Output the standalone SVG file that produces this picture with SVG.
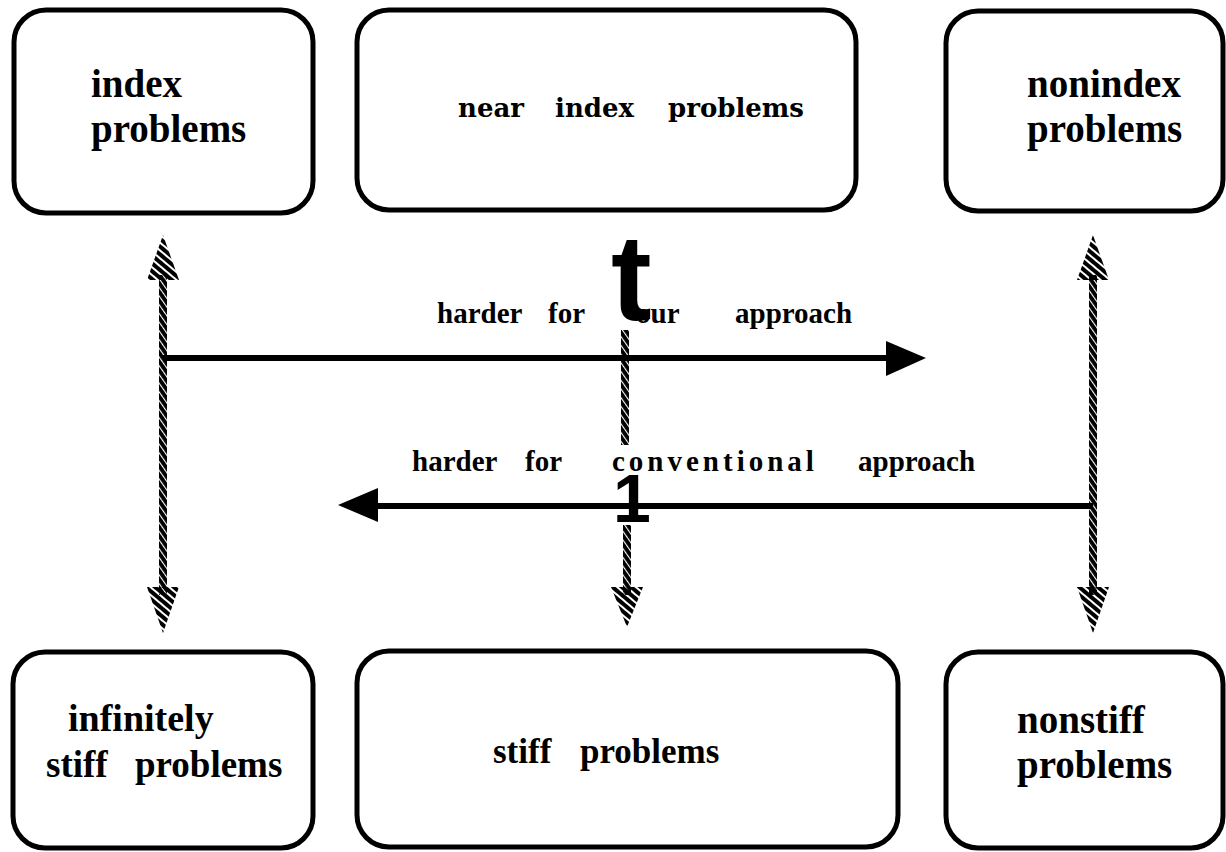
<svg xmlns="http://www.w3.org/2000/svg" width="1226" height="852" viewBox="0 0 1226 852">
<style>
.box{fill:#fff;stroke:#000;stroke-width:5}
.lbl{font-family:"Liberation Serif",serif;font-weight:bold;font-size:39px;fill:#000}
.lbl2{font-family:"DejaVu Serif","Liberation Serif",serif;font-weight:bold;font-size:26px;fill:#000}
.alb{font-family:"Liberation Serif",serif;font-weight:bold;font-size:29px;fill:#000}
.big{font-family:"Liberation Sans",sans-serif;font-weight:bold;fill:#000}
.rope{fill:url(#rope)}
.hhead{fill:url(#hatch)}
.line{stroke:#000;stroke-width:6;fill:none}
</style>
<defs>
<pattern id="hatch" width="6" height="6" patternUnits="userSpaceOnUse" patternTransform="rotate(40)"><rect width="6" height="4" fill="#000"/></pattern>
<pattern id="rope" width="5" height="5" patternUnits="userSpaceOnUse" patternTransform="rotate(55)"><rect width="5" height="3.9" fill="#000"/></pattern>
</defs>
<rect width="1226" height="852" fill="#fff"/>
<g id="n1"><rect class="box" x="14" y="10" width="299" height="203" rx="32"/>
<text class="lbl" x="91" y="97">index</text><text class="lbl" x="91" y="142">problems</text></g>
<g id="n2"><rect class="box" x="357" y="10" width="499" height="200" rx="32"/>
<text class="lbl2" y="117"><tspan x="458">near</tspan><tspan x="555">index</tspan><tspan x="668">problems</tspan></text></g>
<g id="n3"><rect class="box" x="946" y="11" width="277" height="200" rx="32"/>
<text class="lbl" x="1027" y="97">nonindex</text><text class="lbl" x="1027" y="142">problems</text></g>
<g id="n4"><rect class="box" x="13" y="652" width="300" height="196" rx="32"/>
<text class="lbl" style="font-size:38px" x="68" y="731">infinitely</text><text class="lbl" style="font-size:37px" y="777"><tspan x="46">stiff</tspan><tspan x="135">problems</tspan></text></g>
<g id="n5"><rect class="box" x="357" y="651" width="541" height="196" rx="32"/>
<text class="lbl" style="font-size:35px" y="763"><tspan x="493">stiff</tspan><tspan x="580">problems</tspan></text></g>
<g id="n6"><rect class="box" x="946" y="652" width="277" height="196" rx="32"/>
<text class="lbl" x="1017" y="733">nonstiff</text><text class="lbl" x="1017" y="778">problems</text></g>
<g id="connectors">
<rect class="rope" x="159" y="275" width="8" height="320"/>
<polygon class="hhead" points="163,235 147,280 179,280"/>
<polygon class="hhead" points="163,633 147,587 179,587"/>
<rect class="rope" x="1089" y="275" width="8" height="320"/>
<polygon class="hhead" points="1093,235 1077,280 1109,280"/>
<polygon class="hhead" points="1093,633 1077,587 1109,587"/>
<rect class="rope" x="621" y="330" width="8" height="115"/>
<rect class="rope" x="623" y="525" width="8" height="70"/>
<polygon class="hhead" points="627,627 611,587 643,587"/>
<line class="line" x1="163" y1="358" x2="892" y2="358"/>
<polygon points="886,341 926,358 886,376" fill="#000"/>
<line class="line" x1="1093" y1="506" x2="372" y2="506"/>
<polygon points="378,488 338,505 378,522" fill="#000"/>
<text class="alb" y="323"><tspan x="437">harder</tspan><tspan x="548">for</tspan><tspan x="636">our</tspan><tspan x="735">approach</tspan></text>
<text class="alb" y="471"><tspan x="412">harder</tspan><tspan x="525">for</tspan><tspan x="612" style="letter-spacing:4px">conventional</tspan><tspan x="858">approach</tspan></text>
<text class="big" x="611" y="320" font-size="122">t</text>
<text class="big" x="632" y="522" font-size="68" text-anchor="middle">1</text>
</g>
</svg>
